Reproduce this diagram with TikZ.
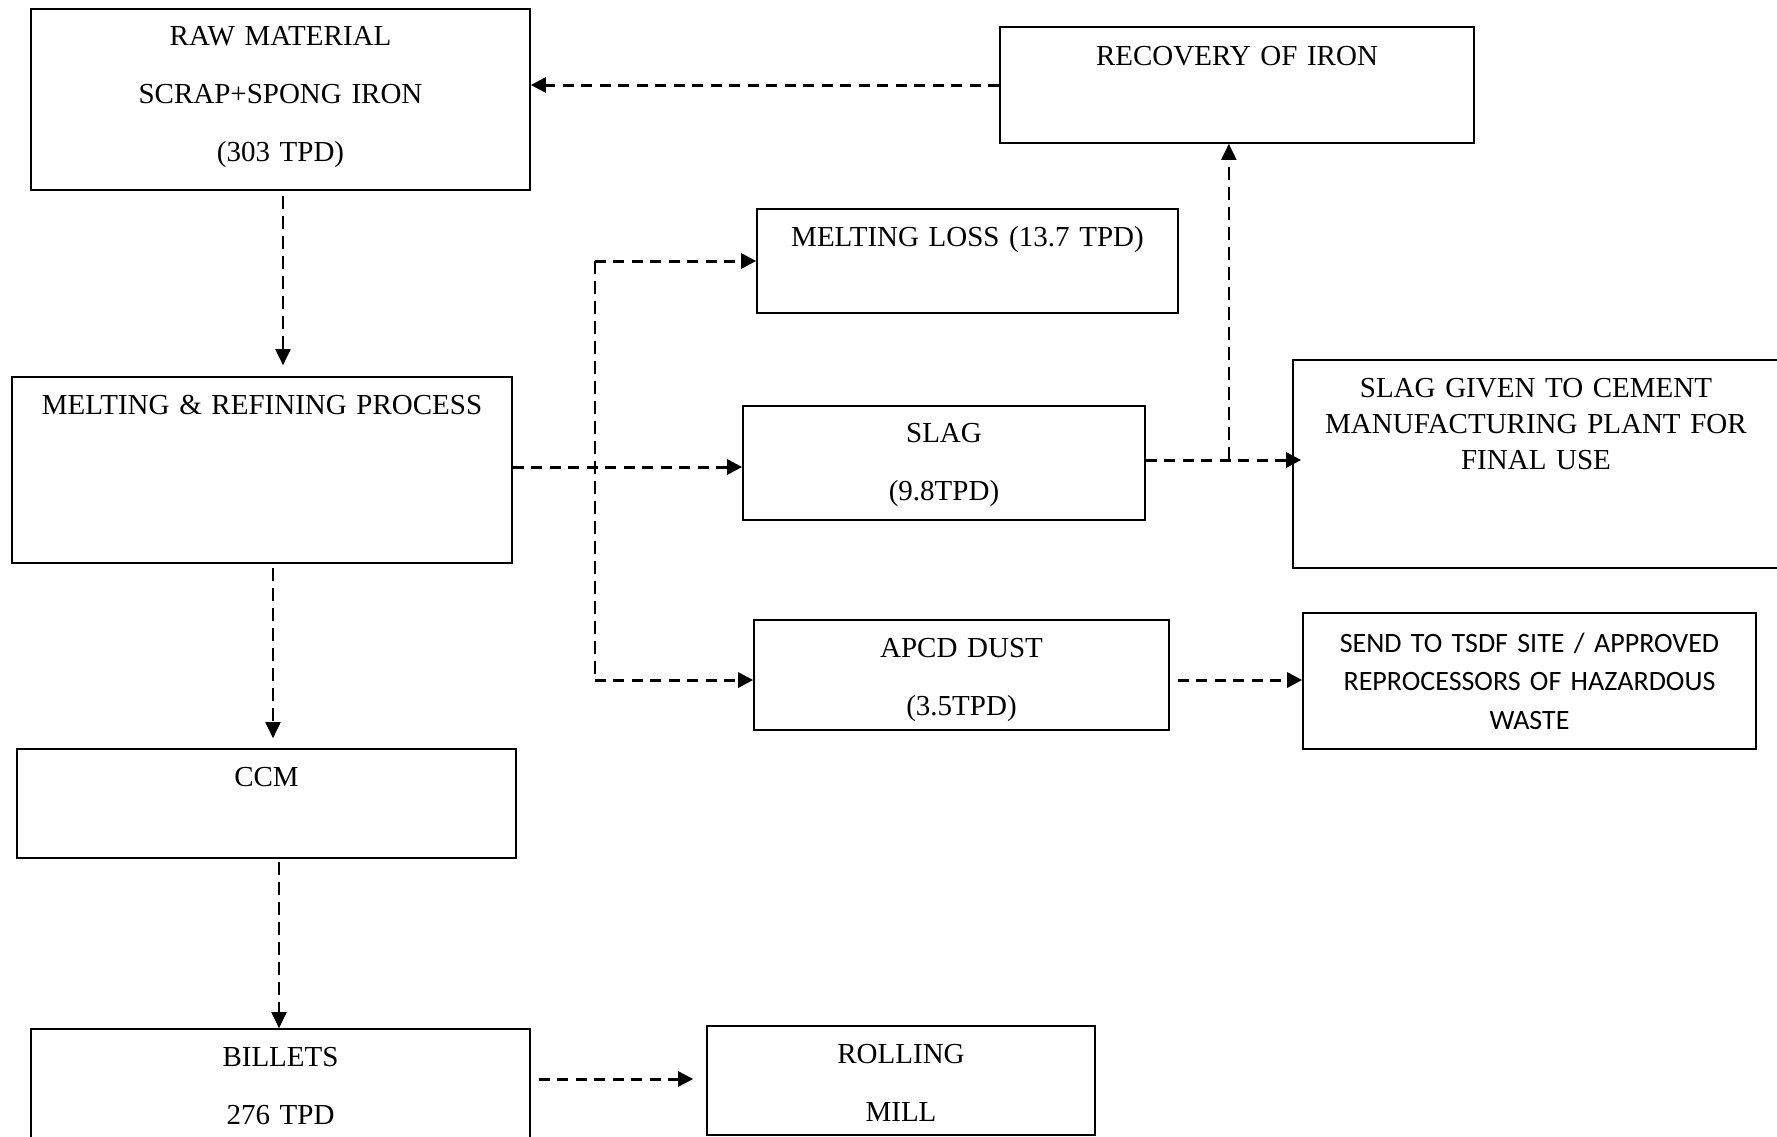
\documentclass[tikz,border=0pt]{standalone}
\usepackage{fontspec}
\setmainfont{Liberation Serif}
\newfontfamily\calibrifont{Carlito}
\usetikzlibrary{arrows.meta,calc}

\begin{document}
\begin{tikzpicture}[x=1pt,y=-1pt,
  box/.style={draw=black,line width=1.7pt,inner sep=0pt,minimum width=#1},
  txt/.style={anchor=base,inner sep=0pt,align=center,text width=#1},
  dbl/.style={font=\fontsize{29}{58}\selectfont},
  sgl/.style={font=\fontsize{29}{36}\selectfont},
  sans/.style={font=\calibrifont\fontsize{28}{38.5}\selectfont},
  hflow/.style={line width=3pt,dash pattern=on 11pt off 7.5pt,-{Triangle[length=15pt,width=15pt]}},
  vflow/.style={line width=2pt,dash pattern=on 13pt off 7pt,-{Triangle[length=16pt,width=15pt]}},
  vline/.style={line width=2pt,dash pattern=on 13pt off 7pt}]

\useasboundingbox (0,0) rectangle (1777,1136);

% process boxes
\node[box=499pt,minimum height=181pt] (raw) at (280.5,99.5) {};
\node[txt=499pt,dbl] (rawt) at (280.5,45.5) {RAW MATERIAL\\SCRAP+SPONG IRON\\(303 TPD)};

\node[box=474pt,minimum height=116pt] (rec) at (1237,85) {};
\node[txt=474pt,sgl] (rect) at (1237,65) {RECOVERY OF IRON};

\node[box=421pt,minimum height=104pt] (mloss) at (967.5,261) {};
\node[txt=421pt,sgl] (mlosst) at (967.5,246.5) {MELTING LOSS (13.7 TPD)};

\node[box=500pt,minimum height=186pt] (mr) at (262,470) {};
\node[txt=500pt,sgl] (mrt) at (262,414.5) {MELTING \& REFINING PROCESS};

\node[box=402pt,minimum height=114pt] (slag) at (944,463) {};
\node[txt=402pt,dbl] (slagt) at (944,442.5) {SLAG\\(9.8TPD)};

\node[box=486pt,minimum height=208pt] (given) at (1536,464) {};
\node[txt=486pt,sgl] (givent) at (1536,397.5) {SLAG GIVEN TO CEMENT\\MANUFACTURING PLANT FOR\\FINAL USE};

\node[box=415pt,minimum height=110pt] (apcd) at (961.5,675) {};
\node[txt=415pt,dbl] (apcdt) at (961.5,657.5) {APCD DUST\\(3.5TPD)};

\node[box=453pt,minimum height=136pt] (tsdf) at (1529.5,681) {};
\node[txt=453pt,sans] (tsdft) at (1529.5,652) {SEND TO TSDF SITE / APPROVED\\REPROCESSORS OF HAZARDOUS\\WASTE};

\node[box=499pt,minimum height=109pt] (ccm) at (266.5,803.5) {};
\node[txt=499pt,sgl] (ccmt) at (266.5,786.5) {CCM};

\node[box=499pt,minimum height=116pt] (billets) at (280.5,1087) {};
\node[txt=499pt,dbl] (billetst) at (280.5,1066.5) {BILLETS\\276 TPD};

\node[box=388pt,minimum height=109pt] (rolling) at (901,1080.5) {};
\node[txt=388pt,dbl] (rollingt) at (901,1063.5) {ROLLING\\MILL};

% main line
\draw[vflow] ($(raw.south)+(2.5,5)$) -- ($(mr.north)+(21,-11)$);
\draw[vflow] ($(mr.south)+(11,4)$) -- ($(ccm.north)+(6.5,-10)$);
\draw[vflow] ($(ccm.south)+(12.5,3)$) -- ($(billets.north)+(-1.5,0)$);
\draw[hflow] ($(billets.east)+(8,-8)$) -- ($(billets.east -| rolling.west)+(-13,-8)$);

% by-products of melting
\coordinate (mo) at ($(mr.east)+(0,-3)$);
\coordinate (br) at ($(mo)+(82,0)$);
\coordinate (apin) at ($(apcd.west)+(0,5)$);
\draw[hflow] (mo) -- (mo -| slag.west);
\draw[vline] (br |- mloss.west) -- (br |- apin);
\draw[hflow] (br |- mloss.west) -- (mloss.west);
\draw[hflow] (br |- apin) -- (apin);

% slag routes
\coordinate (sg) at ($(slag.east)+(0,-3)$);
\coordinate (rj) at ($(sg)+(83,0)$);
\draw[hflow] (sg) -- ($(sg -| given.west)+(9,0)$);
\draw[vflow] (rj) -- (rj |- rec.south);
\draw[hflow] (rec.west) -- (rec.west -| raw.east);

% dust disposal
\draw[hflow] ($(apcd.east)+(8,5)$) -- ($(apcd.east -| tsdf.west)+(0,5)$);

\end{tikzpicture}
\end{document}
